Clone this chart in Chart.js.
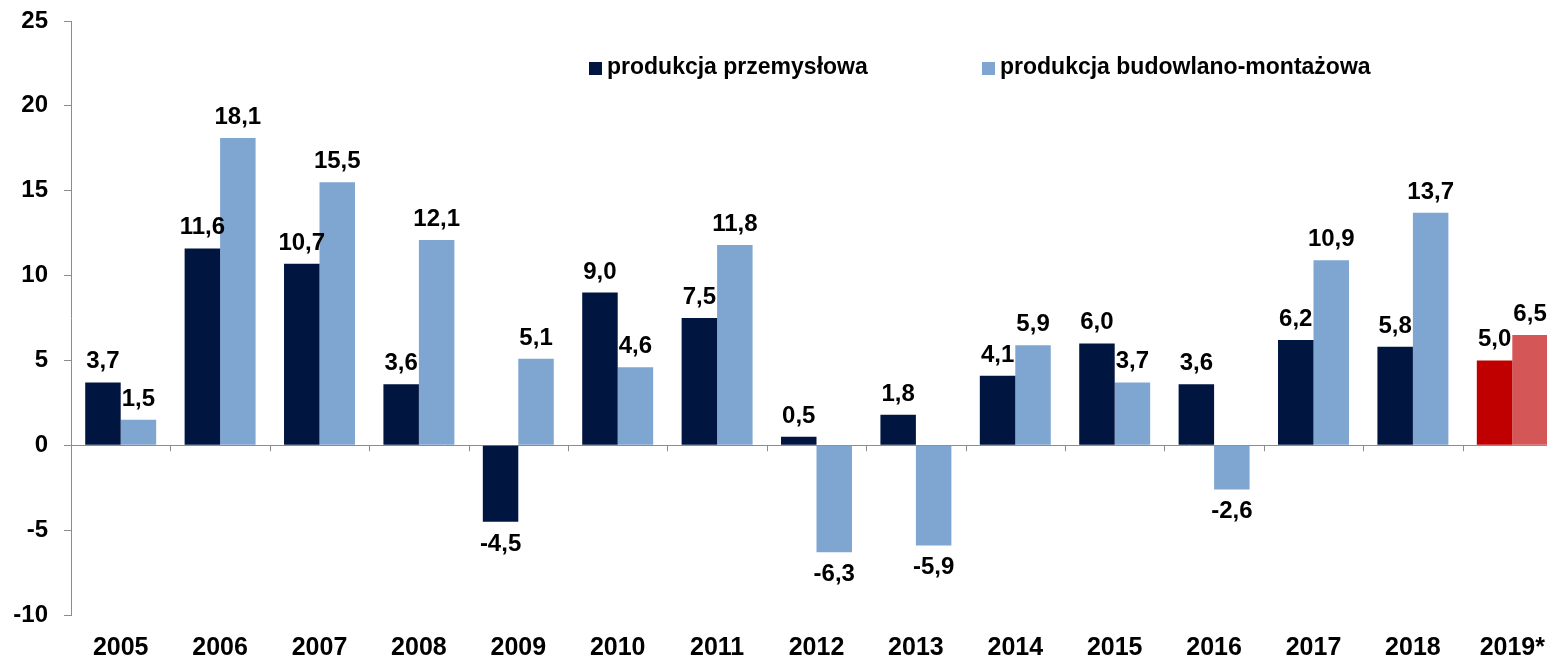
<!DOCTYPE html>
<html>
<head>
<meta charset="utf-8">
<script src="https://cdn.jsdelivr.net/npm/chart.js@4.4.1/dist/chart.umd.min.js"></script>
<style>
    html, body { margin: 0; padding: 0; background: #fff; overflow: hidden; }
    #wrap { position: relative; width: 1547px; height: 661px; overflow: hidden; }
    #chart { position: absolute; left: 0; top: 0; }
    .leg-box { position: absolute; width: 13px; height: 13px; top: 62px; }
    .leg-txt { position: absolute; top: 55px; font: bold 23px "Liberation Sans", Arial, sans-serif; line-height: 1; color: #000; white-space: nowrap; }
</style>
</head>
<body>
<div id="wrap">
    <canvas id="chart" width="1565" height="661"></canvas>
    <div class="leg-box" style="left:589px;background:#001641"></div>
    <div class="leg-txt" style="left:607px">produkcja przemysłowa</div>
    <div class="leg-box" style="left:982px;background:#7fa6d1"></div>
    <div class="leg-txt" style="left:1000px">produkcja budowlano-montażowa</div>
</div>
<script>
const years = ['2005', '2006', '2007', '2008', '2009', '2010', '2011', '2012', '2013', '2014', '2015', '2016', '2017', '2018', '2019*'];
const przemyslowa = [3.7, 11.6, 10.7, 3.6, -4.5, 9.0, 7.5, 0.5, 1.8, 4.1, 6.0, 3.6, 6.2, 5.8, 5.0];
const budowlana = [1.5, 18.1, 15.5, 12.1, 5.1, 4.6, 11.8, -6.3, -5.9, 5.9, 3.7, -2.6, 10.9, 13.7, 6.5];
const seriesNames = ['produkcja przemysłowa', 'produkcja budowlano-montażowa'];

const FONT = '"Liberation Sans", Arial, sans-serif';
const AXIS = '#8c8c8c';

// last year (forecast) is drawn in red
const colorsFor = (base, forecast, n) => Array.from({ length: n }, (_, i) => i === n - 1 ? forecast : base);

// value labels above / below each bar
const valueLabels = {
    id: 'valueLabels',
    afterDatasetsDraw(chart) {
        const ctx = chart.ctx;
        ctx.save();
        ctx.font = 'bold 24px ' + FONT;
        ctx.fillStyle = '#000';
        ctx.textAlign = 'center';
        ctx.textBaseline = 'alphabetic';
        chart.data.datasets.forEach((ds, di) => {
            chart.getDatasetMeta(di).data.forEach((bar, i) => {
                const v = ds.data[i];
                const txt = v.toFixed(1).replace('.', ',');
                const y = v >= 0 ? bar.y - 14 : bar.y + 29;
                ctx.fillText(txt, bar.x, y);
            });
        });
        ctx.restore();
    }
};

// small tick marks under the zero line between categories
const zeroTicks = {
    id: 'zeroTicks',
    afterDraw(chart) {
        const x = chart.scales.x, y = chart.scales.y;
        const y0 = y.getPixelForValue(0);
        const ctx = chart.ctx;
        ctx.save();
        ctx.strokeStyle = AXIS;
        ctx.lineWidth = 1;
        for (let i = 1; i < years.length; i++) {
            const px = Math.round((x.getPixelForValue(i - 1) + x.getPixelForValue(i)) / 2) + 0.5;
            ctx.beginPath();
            ctx.moveTo(px, y0);
            ctx.lineTo(px, y0 + 6);
            ctx.stroke();
        }
        ctx.restore();
    }
};

new Chart(document.getElementById('chart'), {
    type: 'bar',
    data: {
        labels: years,
        datasets: [{
            label: seriesNames[0],
            data: przemyslowa,
            backgroundColor: colorsFor('#001641', '#c00000', years.length),
            borderWidth: 0,
            barPercentage: 1.0,
            categoryPercentage: 0.714
        }, {
            label: seriesNames[1],
            data: budowlana,
            backgroundColor: colorsFor('#7fa6d1', '#d45656', years.length),
            borderWidth: 0,
            barPercentage: 1.0,
            categoryPercentage: 0.714
        }]
    },
    options: {
        responsive: false,
        animation: false,
        devicePixelRatio: 1,
        layout: { padding: { top: 21, right: 3, left: 0, bottom: 0 } },
        plugins: {
            legend: { display: false },
            tooltip: { enabled: false }
        },
        scales: {
            x: {
                grid: { display: false },
                border: { display: false },
                ticks: {
                    color: '#000',
                    font: { family: FONT, size: 25, weight: 'bold' },
                    padding: 10,
                    maxRotation: 0,
                    autoSkip: false
                },
                afterFit: s => { s.height = 46; }
            },
            y: {
                min: -10,
                max: 25,
                ticks: {
                    stepSize: 5,
                    color: '#000',
                    font: { family: FONT, size: 24, weight: 'bold' },
                    padding: 16
                },
                grid: {
                    color: c => c.tick && c.tick.value === 0 ? AXIS : 'rgba(0,0,0,0)',
                    tickColor: AXIS,
                    tickLength: 7,
                    lineWidth: 1
                },
                border: { display: true, color: AXIS, width: 1 },
                afterFit: s => { s.width = 71; s.paddingTop = 0; s.paddingBottom = 0; }
            }
        }
    },
    plugins: [valueLabels, zeroTicks]
});
</script>
</body>
</html>
